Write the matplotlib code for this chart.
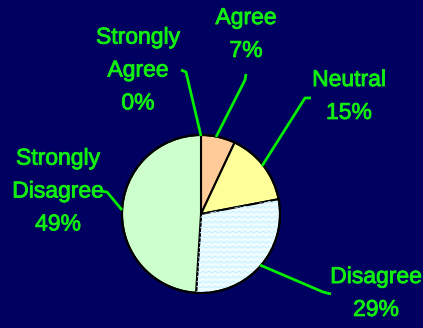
import matplotlib.pyplot as plt
import matplotlib.patheffects as pe
import numpy as np

labels = ["Strongly\nAgree", "Agree", "Neutral", "Disagree", "Strongly\nDisagree"]
values = [0, 7, 15, 29, 49]
colors = ["#ffffff", "#ffcc99", "#ffff99", "#eefcff", "#ccffcc"]

# label block centers and leader paths (pixel coords, y from top)
label_pos = [(138, 70), (246, 34), (349, 96), (376, 293), (58, 191)]
leaders = [
    [(181, 70), (186, 72), (201, 136)],
    [(246, 74), (245, 80), (216, 137)],
    [(311, 98), (305, 98), (262, 166)],
    [(331, 294), (323, 292), (260, 265)],
    [(100, 191), (107, 192), (122, 210)],
]

W, H = 423, 328
green = "#11ee11"
bg = "#000060"

fig = plt.figure(figsize=(W / 100, H / 100), dpi=100)
fig.patch.set_facecolor(bg)
ax = fig.add_axes([0, 0, 1, 1])
ax.set_facecolor(bg)

cx, cy, r = 201, H - 214, 79
wedges, _ = ax.pie(values, colors=colors, startangle=90, counterclock=False,
                   center=(cx, cy), radius=r, frame=True,
                   wedgeprops=dict(edgecolor="black", linewidth=1.5))

# zigzag texture on the Disagree slice
zz = wedges[3]
xs = np.arange(cx - r, cx + r + 6, 3.0)
for y0 in np.arange(cy - r, cy + r, 5.0):
    ys = y0 + np.where(np.arange(len(xs)) % 2 == 0, 0, 1.8)
    ln, = ax.plot(xs, ys, color="#c4f0ff", lw=0.7, zorder=2)
    ln.set_clip_path(zz)
zz.set_zorder(1)
ax.add_patch(plt.Circle((cx, cy), r, fill=False, edgecolor="black", lw=1.5, zorder=3))

for lab, v, (lx, ly), path in zip(labels, values, label_pos, leaders):
    ax.text(lx, H - ly, f"{lab}\n{v}%", ha="center", va="center", color=green,
            fontsize=16.5, family="Liberation Sans", linespacing=1.55,
            path_effects=[pe.withStroke(linewidth=0.6, foreground=green)])
    px = [p[0] for p in path]
    py = [H - p[1] for p in path]
    ax.plot(px, py, color="#00ee00", lw=2, zorder=4, solid_capstyle="butt")

ax.set_xlim(0, W)
ax.set_ylim(0, H)
ax.axis("off")
fig.savefig("out.png", dpi=100, facecolor=bg)
